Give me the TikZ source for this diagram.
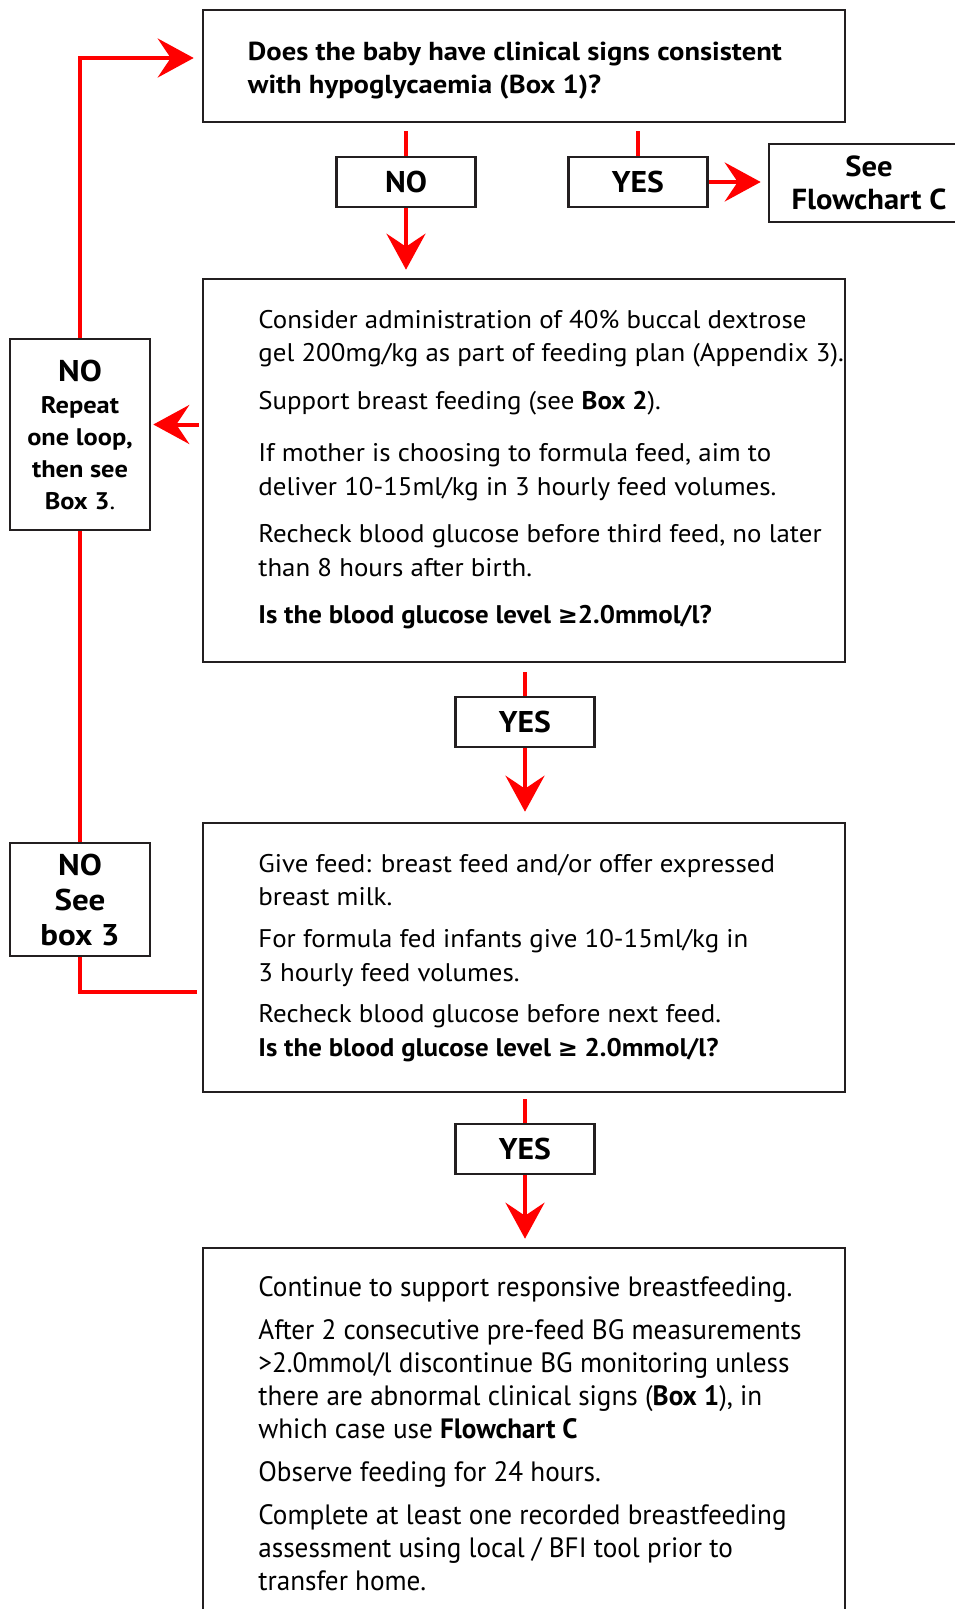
\documentclass[tikz,border=0pt]{standalone}
\usepackage{fontspec}
\setmainfont[FakeStretch=1.055]{PT Sans}
\newfontfamily\headsans[FakeStretch=1.1]{PT Sans}
\newfontfamily\narrowsans[FakeStretch=0.97]{PT Sans}
\newfontfamily\symsans{DejaVu Sans}
\usetikzlibrary{arrows.meta, positioning}
\definecolor{flowred}{RGB}{255,0,0}
\definecolor{boxgray}{RGB}{35,31,32}
\newcommand{\gesign}{{\symsans\fontsize{24}{24}\selectfont ≥}}

\begin{document}
\begin{tikzpicture}[x=1pt, y=-1pt,
    box/.style={draw=boxgray, line width=2.6pt, minimum width=642pt, inner sep=0pt},
    tag/.style={draw=boxgray, line width=2.6pt, minimum width=139pt, minimum height=50pt, inner sep=0pt, font=\bfseries\fontsize{30}{32}\selectfont},
    side/.style={draw=boxgray, line width=2.6pt, minimum width=140pt, inner sep=0pt, align=center, font=\headsans\bfseries\fontsize{24}{32}\selectfont},
    txt/.style={anchor=north west, inner sep=0pt, align=left, font=\fontsize{25.5}{33.8}\selectfont},
    flow/.style={draw=flowred, line width=4pt},
    arr/.style={flow, -{Stealth[length=36pt, width=39pt, inset=13pt]}}]

    \useasboundingbox (0,0) rectangle (955,1609);

    \node[box, minimum height=112pt] (q1) at (524,66) {};
    \node[tag] (noA) at (406,182) {NO};
    \node[tag] (yesA) at (638,182) {YES};
    \node[draw=boxgray, line width=2.6pt, minimum width=200pt, minimum height=78pt, inner sep=0pt, align=center,
          font=\bfseries\fontsize{29}{33}\selectfont] (seeC) at (869,183) {See\\Flowchart C};
    \node[box, minimum height=383pt] (b2) at (524,470.5) {};
    \node[side, minimum height=191pt] (rep) at (80,434.5)
        {{\fontsize{30}{36}\selectfont NO}\\Repeat\\one loop,\\then see\\Box 3{\mdseries .}};
    \node[tag] (yesB) at (525,722) {YES};
    \node[box, minimum height=269pt] (b3) at (524,957.5) {};
    \node[side, minimum height=113pt, font=\headsans\bfseries\fontsize{30}{35}\selectfont] (see3) at (80,899.5)
        {NO\\See\\box 3};
    \node[tag] (yesC) at (525,1149) {YES};
    \node[box, minimum height=392pt] (b4) at (524,1444) {};

    \node[txt, font=\headsans\bfseries\fontsize{26}{33}\selectfont] (q1txt) at ([xshift=46pt, yshift=-33pt]q1.north west)
        {Does the baby have clinical signs consistent\\with hypoglycaemia (Box 1)?};
    \node[txt] (b2txt) at ([xshift=56.5pt, yshift=-32pt]b2.north west)
        {Consider administration of 40\% buccal dextrose\\
         gel 200mg/kg as part of feeding plan (Appendix 3).\\[13.4pt]
         Support breast feeding (see \textbf{Box 2}).\\[18.5pt]
         If mother is choosing to formula feed, aim to\\
         deliver 10-15ml/kg in 3 hourly feed volumes.\\[13.4pt]
         Recheck blood glucose before third feed, no later\\
         than 8 hours after birth.\\[13.4pt]
         \textbf{Is the blood glucose level \gesign2.0mmol/l?}};
    \node[txt] (b3txt) at ([xshift=56.5pt, yshift=-32pt]b3.north west)
        {Give feed: breast feed and/or offer expressed\\
         breast milk.\\[8.2pt]
         For formula fed infants give 10-15ml/kg in\\
         3 hourly feed volumes.\\[7.2pt]
         Recheck blood glucose before next feed.\\
         \textbf{Is the blood glucose level \gesign{} 2.0mmol/l?}};
    \node[txt, font=\narrowsans\fontsize{28}{33}\selectfont] (b4txt) at ([xshift=56.5pt, yshift=-30pt]b4.north west)
        {Continue to support responsive breastfeeding.\\[10pt]
         After 2 consecutive pre-feed BG measurements\\
         >2.0mmol/l discontinue BG monitoring unless\\
         there are abnormal clinical signs (\textbf{Box 1}), in\\
         which case use \textbf{Flowchart C}\\[10pt]
         Observe feeding for 24 hours.\\[10pt]
         Complete at least one recorded breastfeeding\\
         assessment using local / BFI tool prior to\\
         transfer home.};

    \draw[flow] ([yshift=-8pt]q1.south -| noA.north) -- (noA.north);
    \draw[arr] (noA.south) -- ([yshift=8pt]noA.south |- b2.north);
    \draw[flow] ([yshift=-8pt]q1.south -| yesA.north) -- (yesA.north);
    \draw[arr] (yesA.east) -- ([xshift=-7pt]yesA.east -| seeC.west);
    \draw[arr] ([xshift=-3pt, yshift=46pt]b2.west) -- ([xshift=2pt, yshift=46pt]b2.west -| rep.east);
    \draw[arr] (rep.north) |- ([xshift=-8pt, yshift=8pt]q1.west);
    \draw[flow] (rep.south) -- (see3.north);
    \draw[flow] (see3.south) |- ([xshift=-5pt, yshift=-34.5pt]b3.west);
    \draw[flow] ([yshift=-9pt]b2.south -| yesB.north) -- (yesB.north);
    \draw[arr] (yesB.south) -- ([yshift=10pt]yesB.south |- b3.north);
    \draw[flow] ([yshift=-6pt]b3.south -| yesC.north) -- (yesC.north);
    \draw[arr] (yesC.south) -- ([yshift=8pt]yesC.south |- b4.north);
\end{tikzpicture}
\end{document}
